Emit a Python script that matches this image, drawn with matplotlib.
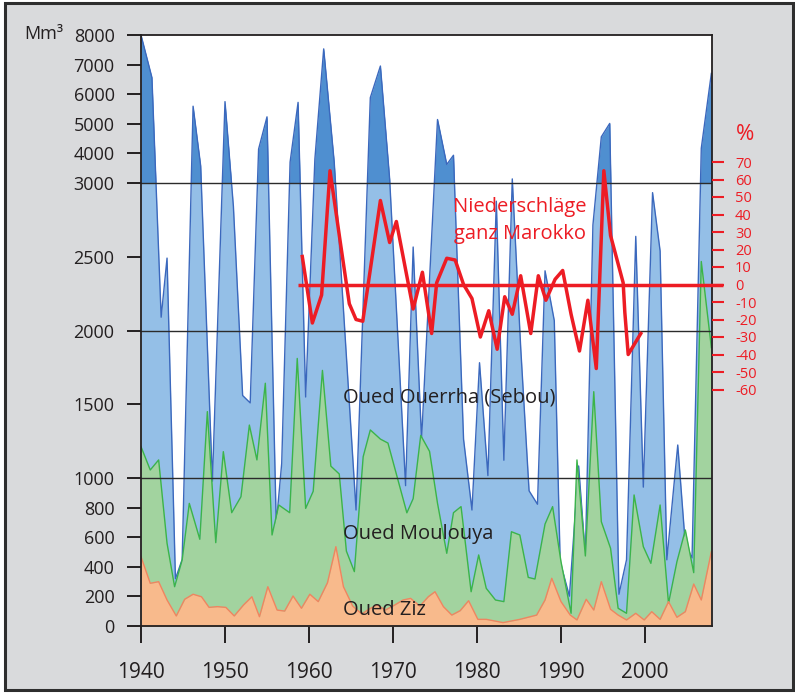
import numpy as np
import matplotlib
matplotlib.use("Agg")
import matplotlib.pyplot as plt
from matplotlib.patches import Rectangle

plt.rcParams['font.family'] = ['Open Sans', 'DejaVu Sans']

# Oued Ouerrha (Sebou), Mm3
ouerrha_years = [1940.0, 1941.3, 1942.4, 1943.1, 1944.1, 1944.9, 1946.2, 1947.1, 1948.5, 1950.0,
                 1951.0, 1952.1, 1953.0, 1954.0, 1955.0, 1956.1, 1956.75, 1957.75, 1958.7, 1959.6,
                 1960.7, 1961.75, 1963.0, 1965.6, 1967.3, 1968.5, 1969.6, 1971.5, 1972.4, 1973.4,
                 1975.3, 1976.4, 1977.2, 1978.4, 1979.4, 1980.3, 1981.3, 1982.3, 1983.2, 1984.2,
                 1985.2, 1986.2, 1987.2, 1988.1, 1989.2, 1989.9, 1991.0, 1992.1, 1992.9, 1993.8,
                 1994.8, 1995.8, 1996.9, 1997.8, 1998.9, 1999.8, 2000.9, 2001.8, 2002.6, 2003.9,
                 2004.8, 2005.6, 2006.7, 2007.9]
ouerrha_vals = [8000, 6560, 2090, 2490, 320, 450, 5590, 3580, 980, 5745,
                2840, 1560, 1510, 4140, 5230, 690, 1100, 3700, 5720, 1550,
                3800, 7530, 3700, 785, 5880, 6950, 3130, 950, 2565, 1264,
                5140, 3620, 3930, 1264, 785, 1782, 1018, 2875, 1122, 3130,
                1886, 915, 824, 2404, 2067, 435, 202, 1083, 474, 2714,
                4554, 5007, 215, 448, 2637, 940, 2933, 2538, 448, 1225,
                552, 461, 4165, 6700]

# Oued Moulouya
moulouya_years = [1940.0, 1941.1, 1942.1, 1943.1, 1944.0, 1944.9, 1945.75, 1947.0, 1947.9, 1948.9,
                  1949.8, 1950.8, 1951.9, 1952.9, 1953.8, 1954.8, 1955.6, 1956.4, 1957.7, 1958.6,
                  1959.6, 1960.5, 1961.6, 1962.6, 1963.6, 1964.45, 1965.4, 1966.45, 1967.3, 1968.5,
                  1969.4, 1971.65, 1972.4, 1973.3, 1974.35, 1975.3, 1976.4, 1977.2, 1978.1, 1979.3,
                  1980.2, 1981.1, 1982.2, 1983.2, 1984.1, 1985.1, 1986.1, 1986.9, 1988.1, 1989.0,
                  1990.0, 1991.2, 1991.9, 1992.9, 1993.9, 1994.8, 1995.9, 1996.8, 1997.8, 1998.7,
                  1999.8, 2000.7, 2001.8, 2002.8, 2003.8, 2004.8, 2005.8, 2006.7, 2007.9]
moulouya_vals = [1214, 1056, 1124, 560, 266, 447, 830, 587, 1451, 564,
                 1180, 767, 875, 1360, 1124, 1643, 616, 819, 767, 1811,
                 796, 912, 1730, 1082, 1029, 507, 368, 1146, 1327, 1265,
                 1238, 766, 862, 1290, 1182, 830, 492, 767, 808, 232,
                 481, 255, 176, 165, 638, 616, 329, 318, 690, 808,
                 435, 86, 1124, 474, 1586, 706, 526, 120, 86, 887,
                 537, 424, 819, 153, 435, 650, 361, 2467, 1884]

# Oued Ziz
ziz_years = [1940.0, 1941.1, 1942.1, 1943.1, 1944.2, 1945.2, 1946.2, 1947.2, 1948.1, 1949.1,
             1950.1, 1951.1, 1952.2, 1953.2, 1954.1, 1955.1, 1956.2, 1957.1, 1958.1, 1959.1,
             1960.1, 1961.1, 1962.2, 1963.2, 1964.1, 1965.2, 1966.3, 1967.1, 1968.1, 1969.1,
             1970.2, 1971.2, 1972.1, 1973.2, 1974.2, 1975.0, 1976.0, 1977.0, 1978.0, 1979.0,
             1980.1, 1981.1, 1983.1, 1985.1, 1987.1, 1988.1, 1988.9, 1990.0, 1991.1, 1991.9,
             1993.0, 1993.9, 1994.8, 1995.9, 1996.8, 1997.8, 1998.9, 1999.9, 2000.8, 2001.8,
             2002.8, 2003.8, 2004.8, 2005.8, 2006.7, 2007.9]
ziz_vals = [469, 289, 300, 176, 68, 181, 215, 198, 126, 131,
            126, 68, 142, 198, 63, 266, 108, 101, 203, 120,
            215, 165, 293, 537, 266, 135, 81, 113, 142, 108,
            142, 176, 187, 135, 198, 232, 131, 74, 104, 171,
            45, 45, 23, 45, 74, 176, 323, 165, 74, 41,
            181, 108, 300, 113, 74, 41, 86, 41, 97, 45,
            165, 59, 97, 284, 176, 503]

# Niederschlaege ganz Marokko, Abweichung in %
rain_years = [1959.2, 1960.4, 1961.5, 1962.5, 1963.7, 1964.8, 1965.6, 1966.4, 1968.5, 1969.6,
              1970.4, 1972.4, 1973.5, 1974.6, 1975.2, 1976.4, 1977.4, 1978.4, 1979.4, 1980.4,
              1981.4, 1982.4, 1983.3, 1984.2, 1985.2, 1986.4, 1987.3, 1988.2, 1989.3, 1990.2,
              1991.2, 1992.2, 1993.2, 1994.2, 1995.1, 1995.9, 1997.4, 1997.6, 1998.0, 1999.5]
rain_pct = [16, -22, -6, 65, 25, -11, -20, -21, 48, 24,
            36, -14, 7, -28, 1, 15, 14, 0, -8, -30,
            -15, -37, -7, -17, 5, -28, 5, -9, 3, 8,
            -17, -38, -9, -48, 65, 28, 1, -16, -40, -28]
rain_zero_span = [1958.7, 2009.3]

y_ticks = [0, 200, 400, 600, 800, 1000, 1500, 2000, 2500, 3000, 4000, 5000, 6000, 7000, 8000]
x_ticks = [1940, 1950, 1960, 1970, 1980, 1990, 2000]
pct_ticks = [70, 60, 50, 40, 30, 20, 10, 0, -10, -20, -30, -40, -50, -60]

BREAK = 3000.0


def fwd(v):
    v = np.asarray(v, dtype=float)
    return np.where(v <= BREAK, v, BREAK + (v - BREAK) / 5.0)


def inv(t):
    t = np.asarray(t, dtype=float)
    return np.where(t <= BREAK, t, BREAK + (t - BREAK) * 5.0)


W, H = 795, 693
fig = plt.figure(figsize=(W / 100, H / 100), dpi=100, facecolor='white')
fig.patches.append(Rectangle((5 / W, 3 / H), 788 / W, 687 / H, transform=fig.transFigure,
                             facecolor='#d9dadc', edgecolor='#2e2e2e', lw=2.2, zorder=-5))

ax = fig.add_axes([141 / W, 67 / H, 571.2 / W, 591 / H], zorder=2)
ax.set_facecolor('white')
ax.set_yscale('function', functions=(fwd, inv))
ax.set_xlim(1940, 2008)
ax.set_ylim(0, 8000)

# Ouerrha: light below 3000, darker above
ax.fill_between(ouerrha_years, 0, ouerrha_vals, color='#94bfe7', lw=0, zorder=1)
dark = ax.fill_between(ouerrha_years, 0, ouerrha_vals, color='#4f8fd0', lw=0, zorder=1.1)
dark.set_clip_path(Rectangle((1930, BREAK), 90, 6000, transform=ax.transData))
ax.plot(ouerrha_years, ouerrha_vals, color='#3b68bd', lw=1.0, zorder=1.2)

ax.fill_between(moulouya_years, 0, moulouya_vals, color='#a2d39f', lw=0, zorder=2)
ax.plot(moulouya_years, moulouya_vals, color='#3bb44a', lw=1.0, zorder=2.1)

ax.fill_between(ziz_years, 0, ziz_vals, color='#f8ba8c', lw=0, zorder=3)
ax.plot(ziz_years, ziz_vals, color='#ef8560', lw=1.0, zorder=3.1)

for lvl in [1000, 2000, 3000]:
    ax.axhline(lvl, color='#2b2b2b', lw=1.0, zorder=4)

ax.set_yticks(y_ticks)
ax.set_yticklabels([str(v) for v in y_ticks])
ax.set_xticks(x_ticks)
ax.set_xticklabels([str(v) for v in x_ticks])
ax.tick_params(axis='y', direction='out', length=10, width=1.4, pad=9,
               labelsize=13, labelcolor='#231f20', color='#231f20')
ax.tick_params(axis='x', direction='out', length=12, width=1.4, pad=14,
               labelsize=15, labelcolor='#231f20', color='#231f20')
for s in ax.spines.values():
    s.set_color('#231f20')
    s.set_linewidth(1.3)
    s.set_zorder(6)

ax.text(343 / W, 1 - 398 / H, 'Oued Ouerrha (Sebou)', transform=fig.transFigure,
        color='#231f20', fontsize=14.5, va='center', ha='left', zorder=7)
ax.text(343 / W, 1 - 534 / H, 'Oued Moulouya', transform=fig.transFigure,
        color='#231f20', fontsize=14.5, va='center', ha='left', zorder=7)
ax.text(343 / W, 1 - 610 / H, 'Oued Ziz', transform=fig.transFigure,
        color='#231f20', fontsize=14.5, va='center', ha='left', zorder=7)

fig.text(24 / W, 1 - 34 / H, 'Mm³', fontsize=13, color='#231f20', ha='left', va='center')

# precipitation axis
red = '#ed1c24'
ax2 = ax.twinx()
zero_frac = (626 - 284.5) / 591.0
step = 17.5 / 591.0
ax2.set_ylim(-zero_frac / step * 10, (1 - zero_frac) / step * 10)
ax2.set_yticks(pct_ticks)
ax2.set_yticklabels([str(v) for v in pct_ticks])
ax2.tick_params(axis='y', direction='out', length=8.5, width=1.5, pad=8,
                labelsize=10.5, labelcolor=red, color=red)
for s in ax2.spines.values():
    s.set_visible(False)
ax2.plot(rain_zero_span, [0, 0], color=red, lw=2.5, clip_on=False, zorder=8,
         solid_capstyle='butt')
ax2.plot(rain_years, rain_pct, color=red, lw=2.5, zorder=9)
fig.text(745 / W, 1 - 135 / H, '%', fontsize=16, color=red, ha='center', va='center')

fig.text(520 / W, 1 - 207 / H, 'Niederschläge', fontsize=14.5, color=red, ha='center', va='center')
fig.text(520 / W, 1 - 234 / H, 'ganz Marokko', fontsize=14.5, color=red, ha='center', va='center')

fig.savefig('out.png', dpi=100, facecolor=fig.get_facecolor())
